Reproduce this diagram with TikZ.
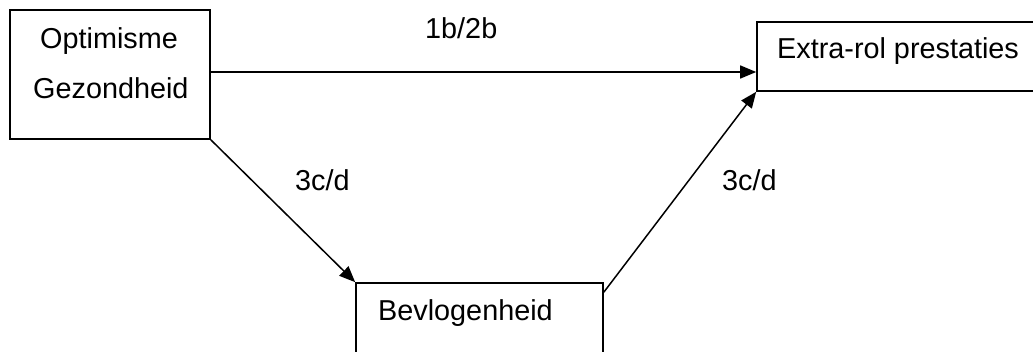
\documentclass[tikz,border=0pt]{standalone}
\usepackage{fontspec}
\setmainfont{Liberation Sans}
\usetikzlibrary{arrows.meta}
\tikzset{
  box/.style={draw, line width=1.6pt, rectangle, inner sep=0pt},
  txt/.style={inner sep=0pt, anchor=base west, font=\fontsize{28.8}{34}\selectfont},
  arr/.style={line width=1.5pt, -{Triangle[length=16pt,width=13pt]}},
}
\begin{document}
\begin{tikzpicture}[x=1pt,y=-1pt]
  \clip (0,0) rectangle (1033,351);
  \fill[white] (0,0) rectangle (1033,351);

  % boxes
  \node[box, minimum width=200pt, minimum height=129pt] (opt) at (110,74.5) {};
  \node[box, minimum width=290pt, minimum height=69pt] (ext) at (902,56.5) {};
  \node[box, minimum width=247pt, minimum height=90pt] (bev) at (479.5,328) {};

  % box texts
  \node[txt] (t1) at (40,48) {Optimisme};
  \node[txt] (t2) at (33,98) {Gezondheid};
  \node[txt] (t3) at (777,58) {Extra-rol prestaties};
  \node[txt] (t4) at (378,320) {Bevlogenheid};

  % path labels
  \node[txt] (l1) at (425,38) {1b/2b};
  \node[txt] (l2) at (295,190) {3c/d};
  \node[txt] (l3) at (722,190) {3c/d};

  % connectors
  \draw[arr] ([yshift=2.5pt]opt.east) -- ([yshift=2.5pt]opt.east -| ext.west);
  \draw[arr] (opt.south east) -- (bev.north west);
  \draw[arr] ([yshift=-10pt]bev.north east) -- (ext.south west);
\end{tikzpicture}
\end{document}
